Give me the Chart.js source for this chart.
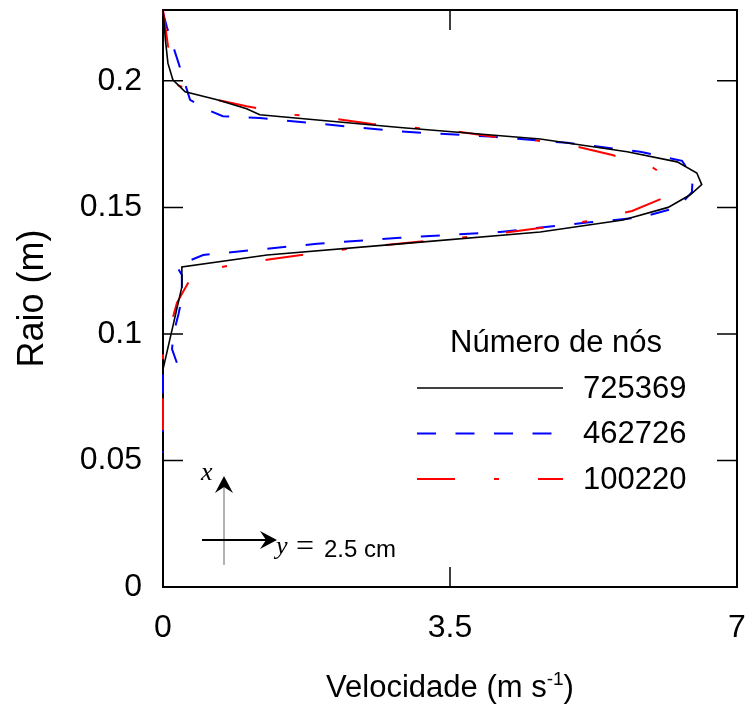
<!DOCTYPE html>
<html>
<head>
<meta charset="utf-8">
<script src="https://cdn.jsdelivr.net/npm/chart.js@4.4.0/dist/chart.umd.min.js"></script>
<style>
  html, body { margin: 0; padding: 0; background: #fff; }
</style>
</head>
<body>
<canvas id="perfilChart" width="746" height="706"></canvas>
<script>
// ============================================
// Perfil de velocidade — Raio vs Velocidade
// ============================================

const xTicks = [0, 3.5, 7];
const yTicks = [0, 0.05, 0.1, 0.15, 0.2];
const xMax = 7;
const yMax = 0.228;

const legendTitle = 'Número de nós';
const seriesLabels = ['725369', '462726', '100220'];

// 725369 nós
const vel725369 = [0, 0.03, 0.06, 0.12, 0.27, 0.66, 1.02, 1.18, 2.89, 4.6, 5.66, 6.27, 6.51, 6.57, 6.43,
  6.16, 5.61, 4.6, 2.89, 1.27, 0.23, 0.23, 0];
const raio725369 = [0.228, 0.216, 0.207, 0.2004, 0.1957, 0.1925, 0.189, 0.1866, 0.1816, 0.177, 0.172, 0.168, 0.1636, 0.159, 0.155,
  0.150, 0.145, 0.1403, 0.1356, 0.1312, 0.1265, 0.1186, 0.086];

// 462726 nós
const vel462726 = [0, 0.05, 0.19, 0.33, 0.55, 0.73, 1.18, 2.89, 3.99, 4.93, 5.82, 6.33, 6.46, 6.45, 6.28,
  5.82, 5.17, 4.11, 2.89, 1.88, 0.49, 0.25, 0.17, 0.23, 0.23, 0.19, 0.13, 0.11, 0.17, 0, 0];
const raio462726 = [0.227, 0.221, 0.207, 0.1925, 0.1885, 0.186, 0.1853, 0.180, 0.178, 0.1755, 0.172, 0.1684, 0.162, 0.156, 0.150,
  0.146, 0.144, 0.1403, 0.138, 0.1356, 0.1312, 0.128, 0.1265, 0.1233, 0.114, 0.108, 0.1004, 0.094, 0.0885, 0.085, 0.053];

// 100220 nós
const vel100220 = [0, 0.06, 0.17, 0.63, 1.02, 1.59, 2.1, 2.55, 3.59, 4.01, 4.51, 5.05, 5.48, 5.96, 6.15, 6.18, 6.12,
  5.72, 5.21, 4.7, 4.23, 3.72, 3.23, 2.26, 1.77, 1.33, 0.79, 0.42, 0.33, 0.25, 0.17, 0.1, 0.06, 0, 0];
const raio100220 = [0.228, 0.214, 0.1984, 0.1927, 0.190, 0.1866, 0.185, 0.183, 0.180, 0.178, 0.1767, 0.174, 0.1707, 0.166, 0.162, 0.157, 0.154,
  0.1486, 0.1447, 0.1423, 0.1403, 0.1383, 0.1368, 0.1336, 0.1316, 0.1296, 0.1269, 0.1245, 0.1215, 0.117, 0.1123, 0.104, 0.0976, 0.0925, 0.062];

const SANS = '"Liberation Sans", Arial, sans-serif';
const SERIF = '"Liberation Serif", "Times New Roman", serif';

function toPoints(xs, ys) {
  return xs.map((x, i) => ({ x: x, y: ys[i] }));
}

// no extra room for overhanging tick labels
function noScalePadding(s) {
  s.paddingTop = 0;
  s.paddingBottom = 0;
  s.paddingLeft = 0;
  s.paddingRight = 0;
}

// Moldura com marcas internas nos quatro lados
const framePlugin = {
  id: 'frame',
  beforeDatasetsDraw(chart) {
    const { ctx, chartArea: a, scales } = chart;
    ctx.save();
    ctx.strokeStyle = '#000';
    ctx.lineWidth = 1.5;
    const tl = 20;
    ctx.beginPath();
    yTicks.forEach(v => {
      const py = scales.y.getPixelForValue(v);
      if (v <= 0 || v >= yMax) return;
      ctx.moveTo(a.left, py); ctx.lineTo(a.left + tl, py);
      ctx.moveTo(a.right, py); ctx.lineTo(a.right - tl, py);
    });
    xTicks.forEach(v => {
      const px = scales.x.getPixelForValue(v);
      if (v <= 0 || v >= xMax) return;
      ctx.moveTo(px, a.bottom); ctx.lineTo(px, a.bottom - tl);
      ctx.moveTo(px, a.top); ctx.lineTo(px, a.top + tl);
    });
    ctx.stroke();
    ctx.lineWidth = 2;
    ctx.strokeRect(a.left, a.top, a.right - a.left, a.bottom - a.top);
    ctx.restore();
  },
};

// Legenda dentro da área do gráfico
const legendPlugin = {
  id: 'innerLegend',
  afterDatasetsDraw(chart) {
    const { ctx, chartArea: a } = chart;
    ctx.save();
    ctx.fillStyle = '#000';
    ctx.font = '31px ' + SANS;
    ctx.textBaseline = 'middle';
    ctx.textAlign = 'center';
    ctx.fillText(legendTitle, a.left + 393, a.top + 333);

    ctx.textAlign = 'left';
    chart.data.datasets.forEach((ds, i) => {
      const y = a.top + 378 + i * 45.5;
      ctx.beginPath();
      ctx.strokeStyle = ds.borderColor;
      ctx.lineWidth = ds.borderWidth;
      ctx.setLineDash(ds.borderDash || []);
      ctx.moveTo(a.left + 254, y);
      ctx.lineTo(a.left + 400, y);
      ctx.stroke();
      ctx.setLineDash([]);
      ctx.fillText(ds.label, a.left + 420, y + 1);
    });
    ctx.restore();
  },
};

// Esquema dos eixos (x, y = 2.5 cm) e títulos dos eixos
function arrowHead(ctx, tipX, tipY, dirX, dirY) {
  const len = 17, half = 9, notch = 11;
  const nx = -dirY, ny = dirX;
  ctx.beginPath();
  ctx.moveTo(tipX, tipY);
  ctx.lineTo(tipX - dirX * len + nx * half, tipY - dirY * len + ny * half);
  ctx.lineTo(tipX - dirX * notch, tipY - dirY * notch);
  ctx.lineTo(tipX - dirX * len - nx * half, tipY - dirY * len - ny * half);
  ctx.closePath();
  ctx.fill();
}

const annotationPlugin = {
  id: 'sketch',
  afterDraw(chart) {
    const { ctx, chartArea: a } = chart;
    ctx.save();
    const ox = a.left + 61;   // origem do esquema
    const oy = a.bottom - 47;

    ctx.strokeStyle = '#999';
    ctx.lineWidth = 1.5;
    ctx.beginPath();
    ctx.moveTo(ox, oy - 55);
    ctx.lineTo(ox, oy + 25);
    ctx.stroke();
    ctx.fillStyle = '#000';
    arrowHead(ctx, ox, oy - 64, 0, -1);

    ctx.strokeStyle = '#000';
    ctx.lineWidth = 2;
    ctx.beginPath();
    ctx.moveTo(ox - 22, oy);
    ctx.lineTo(ox + 44, oy);
    ctx.stroke();
    arrowHead(ctx, ox + 53, oy, 1, 0);

    ctx.textBaseline = 'alphabetic';
    ctx.font = 'italic 26px ' + SERIF;
    ctx.fillText('x', ox - 23, oy - 60);
    ctx.fillText('y', ox + 52, oy + 14);
    ctx.font = '32px ' + SERIF;
    ctx.fillText('=', ox + 72, oy + 16);
    ctx.font = '24px ' + SANS;
    ctx.fillText('2.5 cm', ox + 100, oy + 17);

    // título do eixo x com expoente
    const main = 'Velocidade (m s';
    ctx.font = '31px ' + SANS;
    const wMain = ctx.measureText(main).width;
    ctx.font = '19px ' + SANS;
    const wSup = ctx.measureText('-1').width;
    ctx.font = '31px ' + SANS;
    const wEnd = ctx.measureText(')').width;
    const cx = (a.left + a.right) / 2;
    let tx = cx - (wMain + wSup + wEnd) / 2;
    const base = 697;
    ctx.fillText(main, tx, base);
    tx += wMain;
    ctx.font = '19px ' + SANS;
    ctx.fillText('-1', tx, base - 12);
    tx += wSup;
    ctx.font = '31px ' + SANS;
    ctx.fillText(')', tx, base);

    // título do eixo y
    ctx.translate(33, (a.top + a.bottom) / 2);
    ctx.rotate(-Math.PI / 2);
    ctx.textAlign = 'center';
    ctx.textBaseline = 'middle';
    ctx.font = '36px ' + SANS;
    ctx.fillText('Raio (m)', 0, 0);
    ctx.restore();
  },
};

const datasets = [
  {
    label: seriesLabels[0],
    data: toPoints(vel725369, raio725369),
    borderColor: '#000000',
    borderWidth: 1.6,
    borderDash: [],
    order: 1,
  },
  {
    label: seriesLabels[1],
    data: toPoints(vel462726, raio462726),
    borderColor: '#0000ff',
    borderWidth: 2,
    borderDash: [19, 19.5],
    order: 3,
  },
  {
    label: seriesLabels[2],
    data: toPoints(vel100220, raio100220),
    borderColor: '#ff0000',
    borderWidth: 2,
    borderDash: [38, 39, 5, 39],
    order: 2,
  },
].map(ds => Object.assign(ds, {
  showLine: true,
  fill: false,
  tension: 0,
  pointRadius: 0,
  pointHoverRadius: 0,
  clip: false,
}));

const tickFont = { family: SANS, size: 32 };

new Chart(document.getElementById('perfilChart').getContext('2d'), {
  type: 'scatter',
  data: { datasets },
  options: {
    responsive: false,
    animation: false,
    devicePixelRatio: 1,
    layout: { padding: { top: 10, right: 9, left: 0, bottom: 0 } },
    plugins: {
      legend: { display: false },
      tooltip: { enabled: false },
    },
    scales: {
      x: {
        type: 'linear',
        min: 0,
        max: xMax,
        afterBuildTicks: s => { s.ticks = xTicks.map(v => ({ value: v })); },
        afterFit: s => { s.height = 119; noScalePadding(s); },
        grid: { display: false, drawTicks: false },
        border: { display: false },
        ticks: { font: tickFont, color: '#000', padding: 22, maxRotation: 0, autoSkip: false,
          callback: v => String(v) },
      },
      y: {
        type: 'linear',
        min: 0,
        max: yMax,
        afterBuildTicks: s => { s.ticks = yTicks.map(v => ({ value: v })); },
        afterFit: s => { s.width = 163; noScalePadding(s); },
        grid: { display: false, drawTicks: false },
        border: { display: false },
        ticks: { font: tickFont, color: '#000', padding: 21, autoSkip: false,
          callback: v => String(v) },
      },
    },
  },
  plugins: [framePlugin, legendPlugin, annotationPlugin],
});
</script>
</body>
</html>
